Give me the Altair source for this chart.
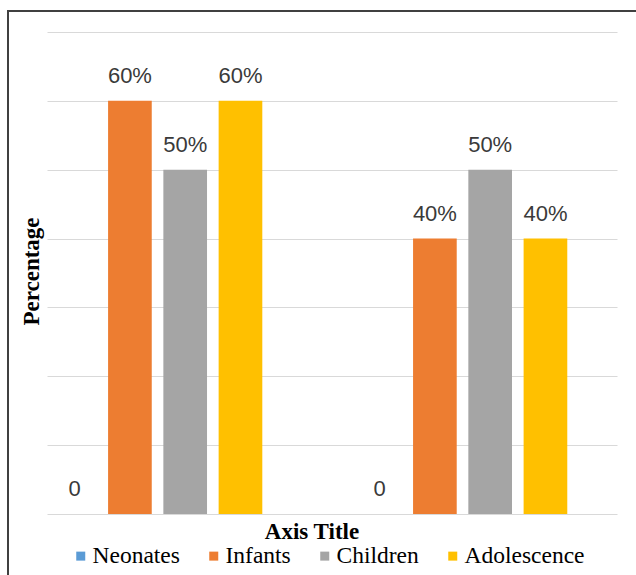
import altair as alt
import pandas as pd

groups = ["Group 1", "Group 2"]
categories = ["Neonates", "Infants", "Children", "Adolescence"]
group1_values = [0, 0.60, 0.50, 0.60]
group2_values = [0, 0.40, 0.50, 0.40]
colors = ["#5B9BD5", "#ED7D31", "#A5A5A5", "#FFC000"]
y_ticks = [0, 0.1, 0.2, 0.3, 0.4, 0.5, 0.6, 0.7]

rows = []
for g, vals in zip(groups, [group1_values, group2_values]):
    for c, v in zip(categories, vals):
        rows.append({"group": g, "category": c, "value": v})
df = pd.DataFrame(rows)

x = alt.X(
    "group:N", sort=groups,
    scale=alt.Scale(paddingInner=0.275, paddingOuter=0.072, align=0, round=False),
    axis=alt.Axis(title="Axis Title", labels=False, ticks=False, domain=False, grid=False,
                  titleFont="Liberation Serif", titleFontSize=23, titleFontWeight="bold",
                  titleColor="#000000", titleX=264.5, titleY=24, titleAlign="center",
                  titleBaseline="alphabetic"),
)
x_off = alt.XOffset("category:N", sort=categories,
                    scale=alt.Scale(paddingInner=0.21, paddingOuter=0.105, round=False))
y = alt.Y(
    "value:Q",
    scale=alt.Scale(domain=[0, 0.7], nice=False, zero=True),
    axis=alt.Axis(title="Percentage", values=y_ticks, labels=False, ticks=False, domain=False,
                  grid=True, gridColor="#D9D9D9", gridWidth=1.2,
                  titleFont="Liberation Serif", titleFontSize=23, titleFontWeight="bold",
                  titleColor="#000000", titleAngle=270, titleX=-9, titleY=239,
                  titleAlign="center", titleBaseline="alphabetic"),
)
color = alt.Color(
    "category:N", sort=categories,
    scale=alt.Scale(domain=categories, range=colors),
    legend=alt.Legend(title=None, orient="none", direction="horizontal", legendX=22, legendY=512,
                      symbolType="square", symbolSize=81, symbolStrokeWidth=0, symbolOpacity=1,
                      labelFont="Liberation Serif", labelFontSize=23.5, labelColor="#000000",
                      labelOffset=0, columnPadding=22, padding=0, labelLimit=0),
)

bars = alt.Chart(df).mark_bar().encode(x=x, xOffset=x_off, y=y, color=color)

labels = alt.Chart(df).transform_calculate(
    label="datum.value == 0 ? '0' : format(datum.value, '.0%')"
).mark_text(font="Liberation Sans", fontSize=22, color="#3A3A3A", dy=-18,
            baseline="alphabetic").encode(x=x, xOffset=x_off, y=y, text="label:N")

frame = alt.Chart(pd.DataFrame({"k": [0]})).mark_rect(
    fillOpacity=0, stroke="#404040", strokeWidth=2
).encode(x=alt.value(-39), x2=alt.value(1200), y=alt.value(-21), y2=alt.value(1200))

chart = alt.layer(frame, bars, labels).properties(
    width=570, height=482,
    autosize=alt.AutoSizeParams(type="none"),
    padding={"left": 47, "top": 32, "right": 19, "bottom": 61},
    background="#FFFFFF",
).configure_view(strokeWidth=0).configure_legend(
    labelFont="Liberation Serif", labelFontSize=23.5, labelColor="#000000"
)

chart.save("out.html", embed_options={"renderer": "svg", "actions": False})
